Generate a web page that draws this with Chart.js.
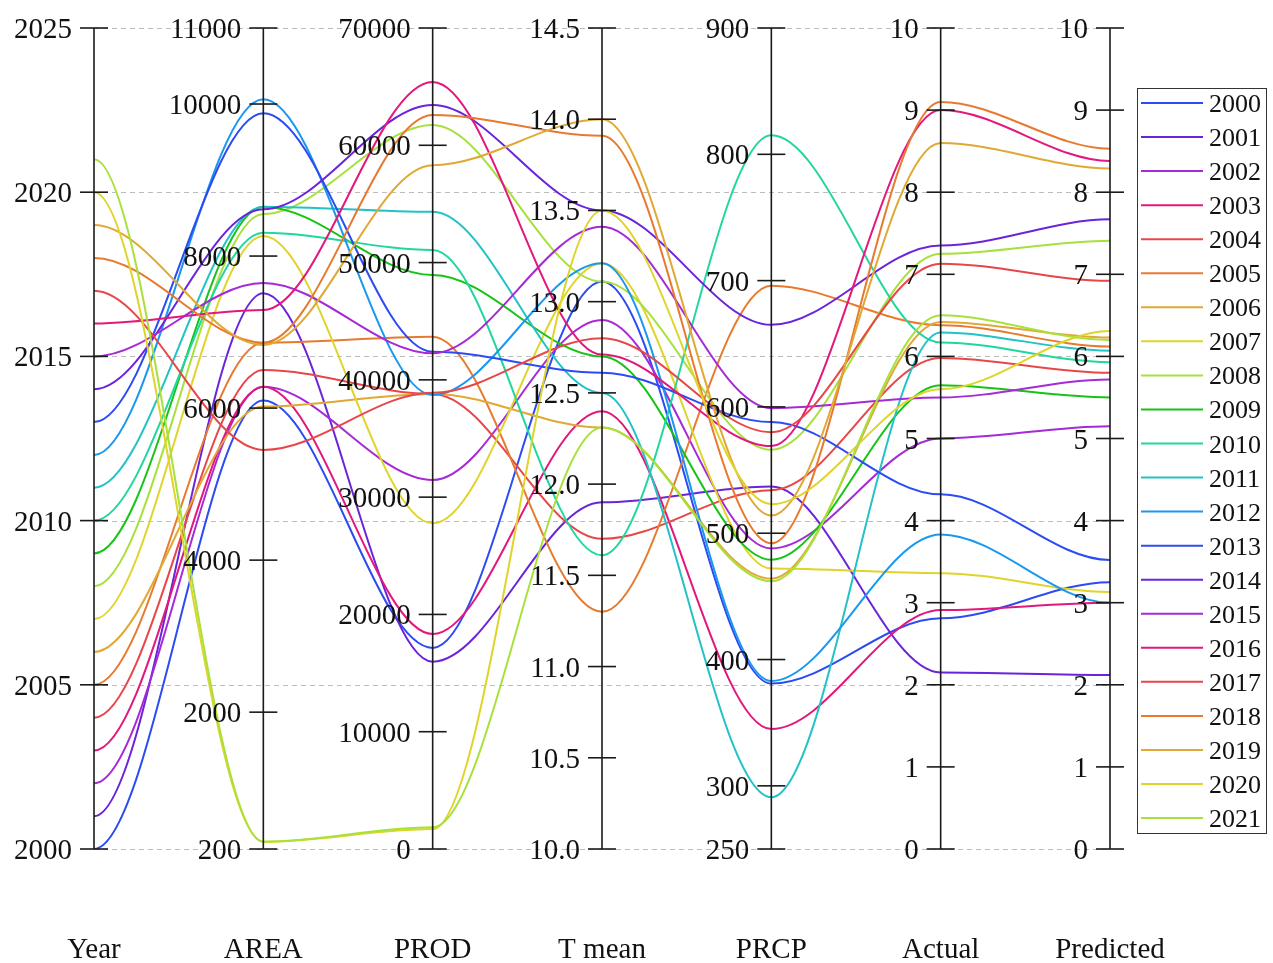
<!DOCTYPE html>
<html>
<head>
<meta charset="utf-8">
<script src="https://cdn.jsdelivr.net/npm/chart.js@4"></script>
<style>
  html, body { margin: 0; padding: 0; background: #fff; }
</style>
</head>
<body>
<canvas id="pc" width="1273" height="963"></canvas>
<script>
// axes of the parallel plot
const axisNames = ['Year', 'AREA', 'PROD', 'T mean', 'PRCP', 'Actual', 'Predicted'];
const axisMin = [2000, 200, 0, 10, 250, 0, 0];
const axisMax = [2025, 11000, 70000, 14.5, 900, 10, 10];
const axisTicks = [
  [2000, 2005, 2010, 2015, 2020, 2025],
  [200, 2000, 4000, 6000, 8000, 10000, 11000],
  [0, 10000, 20000, 30000, 40000, 50000, 60000, 70000],
  [10.0, 10.5, 11.0, 11.5, 12.0, 12.5, 13.0, 13.5, 14.0, 14.5],
  [250, 300, 400, 500, 600, 700, 800, 900],
  [0, 1, 2, 3, 4, 5, 6, 7, 8, 9, 10],
  [0, 1, 2, 3, 4, 5, 6, 7, 8, 9, 10]
];
const tickDecimals = [0, 0, 0, 1, 0, 0, 0];

// one value per year for each axis
const years     = [2000, 2001, 2002, 2003, 2004, 2005, 2006, 2007, 2008, 2009, 2010,
                   2011, 2012, 2013, 2014, 2015, 2016, 2017, 2018, 2019, 2020, 2021];
const area      = [6100, 7510, 6280, 6280, 6500, 6860, 6020, 8264, 8553, 8650, 8307,
                   8650, 10062, 9878, 8615, 7645, 7290, 5450, 6860, 6830, 296, 296];
const prod      = [17140, 15970, 31460, 18330, 38800, 43680, 38800, 27770, 61730, 48940, 51070,
                   54330, 38700, 42400, 63430, 42260, 65400, 38900, 62580, 58300, 1700, 1850];
const tmean     = [13.11, 11.9, 12.9, 12.4, 11.7, 11.3, 12.31, 13.21, 13.11, 12.7, 11.61,
                   12.5, 13.21, 12.61, 13.5, 13.41, 12.71, 12.8, 13.91, 14.0, 13.5, 12.31];
const prcp      = [381, 537, 488, 345, 534, 696, 464, 472, 566, 479, 815,
                   291, 383, 588, 665, 599, 569, 580, 492, 514, 523, 462];
const actual    = [2.81, 2.15, 5.0, 2.91, 5.98, 6.38, 6.42, 3.36, 7.25, 5.65, 6.17,
                   6.29, 3.83, 4.32, 7.35, 5.5, 9.0, 7.13, 9.1, 8.6, 5.6, 6.5];
const predicted = [3.25, 2.12, 5.15, 3.0, 5.8, 6.12, 6.23, 3.13, 7.41, 5.5, 5.93,
                   6.07, 3.0, 3.52, 7.67, 5.72, 8.38, 6.92, 8.53, 8.29, 6.31, 6.2];

// colour cycle used by the lines
const palette = ['#2b4cf2', '#6a24da', '#a62ad6', '#e2187c', '#e8474a', '#e87a30', '#e0a834',
                 '#e0d42a', '#a8e03c', '#16c416', '#22d6a0', '#22c2c6', '#1a98f0'];

const FONT = '"Liberation Serif", "Times New Roman", serif';
const columns = [years, area, prod, tmean, prcp, actual, predicted];

function norm(v, k) {
  return (v - axisMin[k]) / (axisMax[k] - axisMin[k]);
}

const datasets = years.map((yr, i) => ({
  label: String(yr),
  data: columns.map((col, k) => ({ x: k, y: norm(col[i], k) })),
  borderColor: palette[i % palette.length],
  borderWidth: 2,
  pointRadius: 0,
  tension: 0.3,
  fill: false,
  order: -i
}));

// curves leave and enter every axis horizontally (control points at 1/3 and 2/3)
const flatCurves = {
  id: 'flatCurves',
  beforeDatasetDraw(chart, args) {
    const line = args.meta.dataset;
    line.updateControlPoints(chart.chartArea, 'x');
    const pts = args.meta.data;
    pts.forEach((p, i) => {
      const prev = pts[i - 1] || p;
      const next = pts[i + 1] || p;
      p.cp1x = p.x - (p.x - prev.x) / 3;
      p.cp1y = p.y;
      p.cp2x = p.x + (next.x - p.x) / 3;
      p.cp2y = p.y;
    });
    line._path = undefined;
  }
};

// axes, grid, titles and legend are drawn on top of chart.js scales
const parallelAxes = {
  id: 'parallelAxes',
  beforeDatasetsDraw(chart) {
    const { ctx, scales: { x, y } } = chart;
    ctx.save();
    ctx.strokeStyle = '#bdbdbd';
    ctx.lineWidth = 1;
    ctx.setLineDash([5, 4]);
    axisTicks[0].forEach(t => {
      const py = Math.round(y.getPixelForValue(norm(t, 0))) + 0.5;
      ctx.beginPath();
      ctx.moveTo(x.getPixelForValue(0), py);
      ctx.lineTo(x.getPixelForValue(6), py);
      ctx.stroke();
    });
    ctx.restore();
  },
  afterDatasetsDraw(chart) {
    const { ctx, scales: { x, y } } = chart;
    ctx.save();
    ctx.strokeStyle = '#1a1a1a';
    ctx.fillStyle = '#111';
    ctx.lineWidth = 1.6;
    axisNames.forEach((name, k) => {
      const px = x.getPixelForValue(k);
      ctx.beginPath();
      ctx.moveTo(px, y.getPixelForValue(0));
      ctx.lineTo(px, y.getPixelForValue(1));
      ctx.stroke();

      ctx.font = '29px ' + FONT;
      ctx.textAlign = 'right';
      ctx.textBaseline = 'alphabetic';
      axisTicks[k].forEach(t => {
        const py = y.getPixelForValue(norm(t, k));
        ctx.beginPath();
        ctx.moveTo(px - 14, py);
        ctx.lineTo(px + 14, py);
        ctx.stroke();
        ctx.fillText(t.toFixed(tickDecimals[k]), px - 22, py + 10);
      });

      ctx.textAlign = 'center';
      ctx.fillText(name, px, 958);
    });

    // legend
    const lx = 1137, ly = 88, lw = 130, lh = 745;
    ctx.lineWidth = 1;
    ctx.strokeStyle = '#333';
    ctx.strokeRect(lx + 0.5, ly + 0.5, lw - 1, lh);
    ctx.font = '26px ' + FONT;
    ctx.textAlign = 'left';
    chart.data.datasets.forEach((ds, i) => {
      const ey = 103 + i * 34.05;
      ctx.strokeStyle = ds.borderColor;
      ctx.lineWidth = 2;
      ctx.beginPath();
      ctx.moveTo(lx + 4, ey);
      ctx.lineTo(lx + 66, ey);
      ctx.stroke();
      ctx.fillText(ds.label, lx + 72, ey + 9);
    });
    ctx.restore();
  }
};

new Chart(document.getElementById('pc'), {
  type: 'line',
  data: { datasets },
  options: {
    responsive: false,
    animation: false,
    layout: { padding: { left: 94, right: 163, top: 28, bottom: 114 } },
    scales: {
      x: { type: 'linear', min: 0, max: 6, display: false },
      y: { type: 'linear', min: 0, max: 1, display: false }
    },
    plugins: {
      legend: { display: false },
      tooltip: { enabled: false }
    }
  },
  plugins: [flatCurves, parallelAxes]
});
</script>
</body>
</html>
